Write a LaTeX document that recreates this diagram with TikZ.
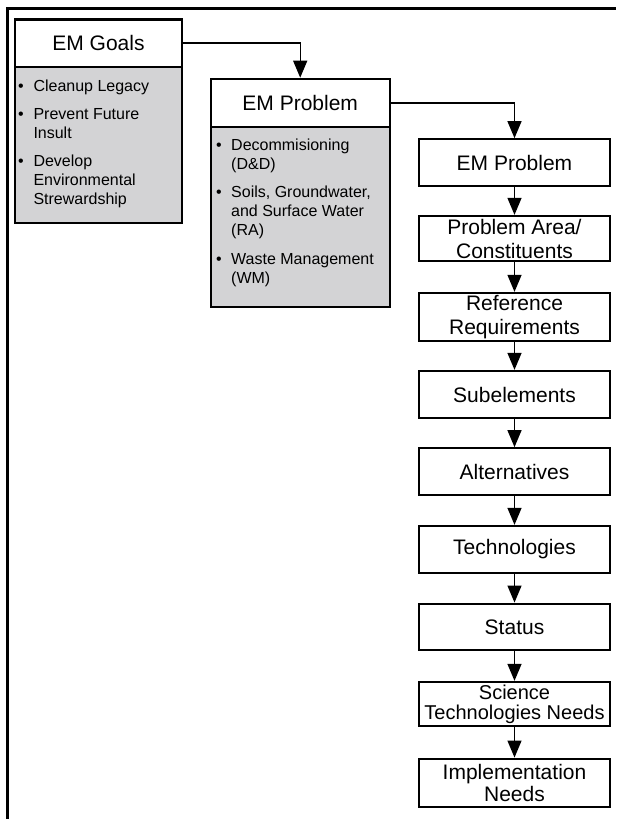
\documentclass[tikz,border=0pt]{standalone}
\usepackage{fontspec}
\setmainfont{Liberation Sans}
\usetikzlibrary{arrows.meta}
\definecolor{boxgray}{RGB}{211,211,213}
\begin{document}
\begin{tikzpicture}[x=1pt,y=-1pt,
  frameline/.style={line width=2.6pt},
  head/.style={draw, line width=2.2pt, fill=white, inner sep=0pt, anchor=north west,
    font=\fontsize{21}{24}\selectfont},
  body/.style={draw, line width=2.2pt, fill=boxgray, inner sep=0pt, anchor=north west},
  stepbox/.style={draw, line width=2.3pt, fill=white, inner sep=0pt, align=center,
    minimum width=191.6pt, font=\fontsize{21}{24}\selectfont},
  conn/.style={line width=1.3pt, -{Triangle[length=17pt,width=14pt]}},
  bul/.style={anchor=base, inner sep=0pt, font=\fontsize{16}{19}\selectfont},
  itm/.style={anchor=base west, inner sep=0pt, font=\fontsize{16}{19}\selectfont}
]
\useasboundingbox (0,0) rectangle (616,819);
% partial frame
\draw[frameline] (7.7,819) -- (7.7,8.3) -- (616,8.3);

% EM Goals box
\node[body, minimum width=167.2pt, minimum height=156pt] (gb) at (13.8,65.7) {};
\node[head, minimum width=167.2pt, minimum height=47.4pt] (g) at (13.8,18.3) {EM Goals};
\node[bul] (gb1) at (21,91.5) {•};
\node[itm] (gt1) at (33.3,91.5) {Cleanup Legacy};
\node[bul] (gb2) at (21,119.5) {•};
\node[itm] (gt2) at (33.3,119.5) {Prevent Future};
\node[itm] (gt2b) at (33.3,138.5) {Insult};
\node[bul] (gb3) at (21,166.8) {•};
\node[itm] (gt3) at (33.3,166.8) {Develop};
\node[itm] (gt3b) at (33.3,185.6) {Environmental};
\node[itm] (gt3c) at (33.3,204) {Strewardship};

% EM Problem (middle) box
\node[body, minimum width=179.2pt, minimum height=179.7pt] (pb) at (209.5,125.8) {};
\node[head, minimum width=179.2pt, minimum height=48.1pt] (p) at (209.5,77.7) {EM Problem};
\node[bul] (pb1) at (219,150.7) {•};
\node[itm] (pt1) at (231,150.7) {Decommisioning};
\node[itm] (pt1b) at (231,169.7) {(D\&D)};
\node[bul] (pb2) at (219,197.3) {•};
\node[itm] (pt2) at (231,197.3) {Soils, Groundwater,};
\node[itm] (pt2b) at (231,216.5) {and Surface Water};
\node[itm] (pt2c) at (231,235.7) {(RA)};
\node[bul] (pb3) at (219,264) {•};
\node[itm] (pt3) at (231,264) {Waste Management};
\node[itm] (pt3b) at (231,283.3) {(WM)};

% right column
\node[stepbox, minimum height=46.7pt] (r1) at (514.5,162.65) {EM Problem};
\node[stepbox, minimum height=45.3pt] (r2) at (514.5,238.65) {Problem Area/\\Constituents};
\node[stepbox, minimum height=48pt] (r3) at (514.5,317) {Reference\\Requirements};
\node[stepbox, minimum height=47.3pt] (r4) at (514.5,394.65) {Subelements};
\node[stepbox, minimum height=46.7pt] (r5) at (514.5,471.65) {Alternatives};
\node[stepbox, minimum height=46.7pt] (r6) at (514.5,549.35) {Technologies};
\node[stepbox, minimum height=46.6pt] (r7) at (514.5,627) {Status};
\node[stepbox, minimum height=44pt, font=\fontsize{20}{20}\selectfont] (r8) at (514.5,704) {Science\\Technologies Needs};
\node[stepbox, minimum height=48pt, font=\fontsize{21}{22}\selectfont] (r9) at (514.5,782.7) {Implementation\\Needs};

% connectors
\draw[conn] (g.east) -| (p.north);
\draw[conn] (p.east) -| (r1.north);
\draw[conn] (r1) -- (r2);
\draw[conn] (r2) -- (r3);
\draw[conn] (r3) -- (r4);
\draw[conn] (r4) -- (r5);
\draw[conn] (r5) -- (r6);
\draw[conn] (r6) -- (r7);
\draw[conn] (r7) -- (r8);
\draw[conn] (r8) -- (r9);
\end{tikzpicture}
\end{document}
